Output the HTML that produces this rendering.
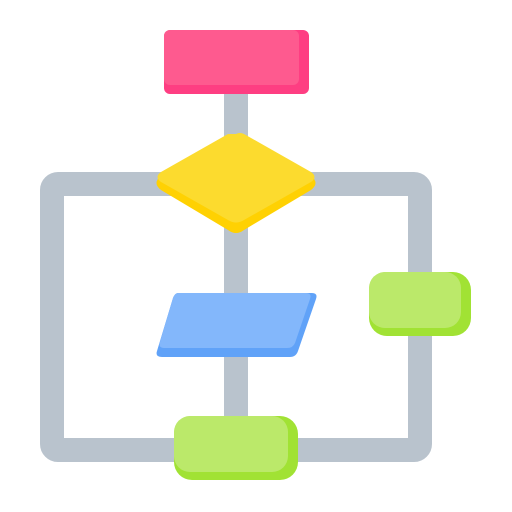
<!DOCTYPE html>
<html><head><style>html,body{margin:0;padding:0;background:#fff}svg{display:block}</style></head>
<body>
<svg width="512" height="512" viewBox="0 0 512 512" xmlns="http://www.w3.org/2000/svg">
<!-- gray frame -->
<rect x="52" y="184" width="368" height="266" rx="6" fill="none" stroke="#b9c3cd" stroke-width="24"/>
<rect x="224" y="90" width="24" height="335" fill="#b9c3cd"/>
<!-- pink -->
<rect x="164" y="30" width="145" height="64" rx="6" fill="#fe3e82"/>
<rect x="164" y="30" width="135" height="55" rx="6" fill="#fe5a8f"/>
<!-- diamond -->
<path d="M236 136 Q240 134 244 136 L311 176 Q320 183 311 190 L244 230 Q236 236 228 230 L161 190 Q152 183 161 176 L228 136 Z" fill="#ffd102"/>
<path d="M236 134 Q240 132 244 134 L311 172 Q318 177 311 182 L244 220 Q236 225 228 220 L161 182 Q154 177 161 172 L228 134 Z" fill="#fcdb2e"/>
<!-- blue parallelogram -->
<path d="M178 293 L312 293 Q318 293 316 299 L298 351 Q296 357 290 357 L162 357 Q155 357 157 351 L173 298 Q175 293 178 293 Z" fill="#60a2f8"/>
<path d="M178 293 L306 293 Q312 293 310 299 L295 343 Q293 348 287 348 L164 348 Q158 348 160 342 L173 298 Q175 293 178 293 Z" fill="#83b7fb"/>
<!-- green right -->
<rect x="369" y="272" width="102" height="64" rx="18" fill="#a1e234"/>
<rect x="369" y="272" width="92" height="56" rx="16" fill="#bbe96a"/>
<!-- green bottom -->
<rect x="174" y="416" width="124" height="64" rx="18" fill="#a1e234"/>
<rect x="174" y="416" width="114" height="56" rx="16" fill="#bbe96a"/>
</svg>
</body></html>
